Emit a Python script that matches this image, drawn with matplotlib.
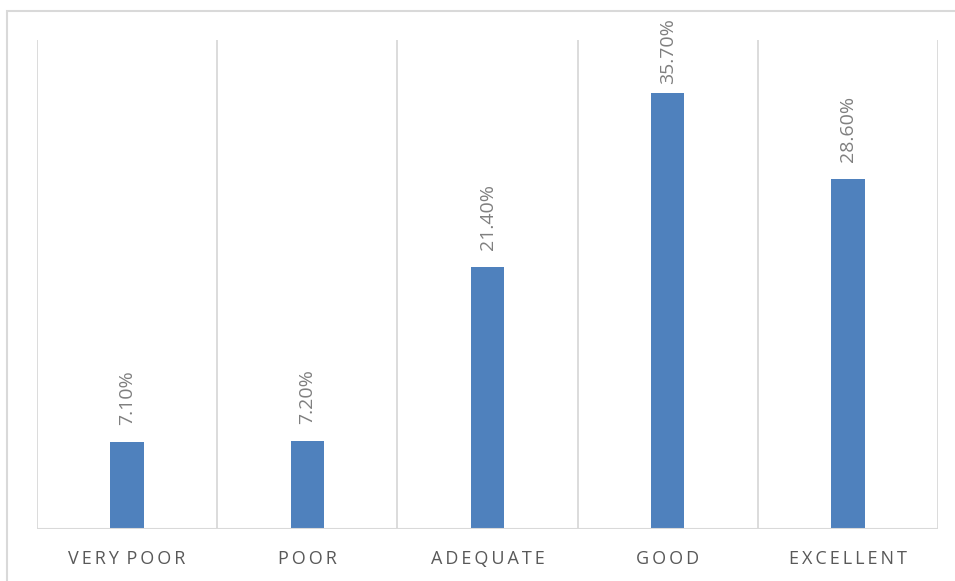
import numpy as np
import matplotlib.pyplot as plt
from matplotlib.patches import Rectangle

# rating shares (percent)
categories = ['VERY POOR', 'POOR', 'ADEQUATE', 'GOOD', 'EXCELLENT']
shares = [7.1, 7.2, 21.4, 35.7, 28.6]

bar_color = '#4F81BD'
grid_color = '#D9D9D9'

plt.rcParams['font.family'] = ['Open Sans', 'DejaVu Sans']

fig = plt.figure(figsize=(9.55, 5.81), dpi=100)
ax = fig.add_axes([37 / 955, 1 - 529 / 581, 901 / 955, 489 / 581])

# light frame around the whole chart area
fig.patches.append(Rectangle((7 / 955, -0.05), 1.0, 1 - 11 / 581 + 0.05,
                             transform=fig.transFigure, fill=False,
                             edgecolor=grid_color, linewidth=1.5))

x = np.arange(len(categories))
bars = ax.bar(x, shares, width=0.185, color=bar_color, zorder=3)

ax.set_xlim(-0.5, len(categories) - 0.5)
ax.set_ylim(0, 40)

# vertical separators between categories
for b in np.arange(-0.5, len(categories), 1.0):
    ax.axvline(b, color=grid_color, linewidth=1.3, zorder=1)
ax.axhline(0, color=grid_color, linewidth=1.5, zorder=4)

for spine in ax.spines.values():
    spine.set_visible(False)
ax.set_yticks([])

# letter-spaced category labels
def spaced(s):
    return ' \u2009'.join('\u2009'.join(w) for w in s.split(' '))

ax.set_xticks(x)
ax.set_xticklabels([spaced(c) for c in categories], fontsize=13, color='#595959')
ax.tick_params(axis='x', length=0, pad=15)

labels = []
for rect, v in zip(bars, shares):
    t = ax.annotate(f'{v:.2f}%', (rect.get_x() + rect.get_width() / 2, v),
                    xytext=(0, 17), textcoords='offset pixels',
                    rotation=90, ha='center', va='bottom',
                    fontsize=14, color='#7F7F7F')
    labels.append(t)

# keep value labels inside the chart frame (pull tall ones down)
fig.canvas.draw()
top_limit = fig.bbox.height - 18
for t in labels:
    bb = t.get_window_extent()
    if bb.y1 > top_limit:
        dx, dy = t.xyann
        t.xyann = (dx, dy - (bb.y1 - top_limit))

fig.savefig('out.png', dpi=100)
